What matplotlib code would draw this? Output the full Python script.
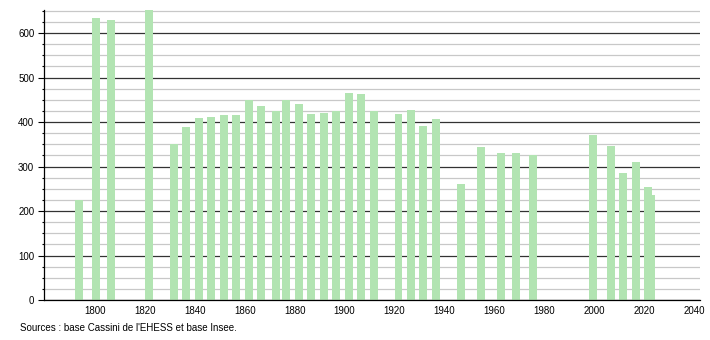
import matplotlib.pyplot as plt
from matplotlib.ticker import MultipleLocator

# Population by census year
years = [1793, 1800, 1806, 1821, 1831, 1836, 1841, 1846, 1851, 1856,
         1861, 1866, 1872, 1876, 1881, 1886, 1891, 1896, 1901, 1906,
         1911, 1921, 1926, 1931, 1936, 1946, 1954, 1962, 1968, 1975,
         1999, 2006, 2011, 2016, 2021, 2022]
population = [225, 635, 630, 652, 351, 389, 410, 412, 415, 416,
              449, 436, 424, 449, 441, 418, 421, 424, 466, 463,
              424, 418, 427, 391, 407, 261, 344, 331, 331, 325,
              371, 346, 286, 310, 253, 236]
x_ticks = [1800, 1820, 1840, 1860, 1880, 1900, 1920, 1940, 1960, 1980, 2000, 2020, 2040]
source = "Sources : base Cassini de l'EHESS et base Insee."

plt.rcParams['font.family'] = ['Liberation Sans', 'DejaVu Sans']

fig = plt.figure(figsize=(7.1, 3.4), dpi=100)
ax = fig.add_axes([0.062, 0.1176, 0.924, 0.853])

ax.yaxis.set_major_locator(MultipleLocator(100))
ax.yaxis.set_minor_locator(MultipleLocator(25))
ax.grid(True, which='minor', axis='y', color='#c8c8c8', linewidth=0.9)
ax.grid(True, which='major', axis='y', color='#333333', linewidth=0.9)
ax.set_axisbelow(True)

ax.bar([y - 1.0 for y in years], population, width=3.2, align='edge',
       color='#b2e4b2', zorder=2)

ax.set_xlim(1779.6, 2042.4)
ax.set_ylim(0, 652)
ax.set_xticks(x_ticks)
ax.tick_params(axis='x', length=0, labelsize=7, pad=4)
ax.tick_params(axis='y', which='major', length=4, width=0.8, labelsize=7, pad=3)
ax.tick_params(axis='y', which='minor', length=1.6, width=0.8)

for side in ['top', 'right']:
    ax.spines[side].set_visible(False)
ax.spines['left'].set_linewidth(0.9)
ax.spines['bottom'].set_linewidth(0.9)

fig.text(20 / 710, 1 - 328 / 340, source, fontsize=7, va='center', ha='left')

fig.savefig('out.png', dpi=100)
